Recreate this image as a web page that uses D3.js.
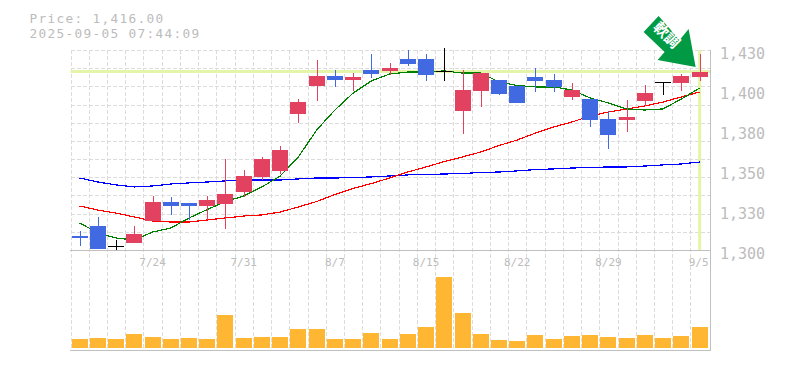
<!DOCTYPE html>
<html><head><meta charset="utf-8">
<script src="https://d3js.org/d3.v7.min.js"></script>
<style>
html,body{margin:0;padding:0;background:#fff}
svg{display:block}
text{font-family:"DejaVu Sans Mono",monospace;fill:#bcbcbc}
</style></head><body>
<svg id="c" width="785" height="370"></svg>
<script>
const dates=["7/17","7/18","7/22","7/23","7/24","7/25","7/28","7/29","7/30","7/31","8/1","8/4","8/5","8/6","8/7","8/8","8/12","8/13","8/14","8/15","8/18","8/19","8/20","8/21","8/22","8/25","8/26","8/27","8/28","8/29","9/1","9/2","9/3","9/4","9/5"];
const tickDates=["7/24","7/31","8/7","8/15","8/22","8/29","9/5"];
const open =[1309.1,1315.6,1302.4,1304.6,1318.9,1331.2,1330.6,1328.6,1329.9,1337.7,1347.5,1351.4,1388.4,1406.6,1413.1,1410.5,1417,1416.4,1424.2,1424.2,1416.4,1390.4,1403.4,1410.5,1406.6,1412.5,1410.5,1399.5,1398.2,1385.2,1384.5,1396.9,1409.2,1408.6,1412.5];
const close=[1307.8,1300.7,1302.4,1310.4,1331.2,1328.6,1328.6,1332.5,1336.4,1348.1,1359.2,1365,1396.2,1413.1,1410.5,1412.5,1414.4,1418.3,1420.9,1413.8,1416.4,1404,1415,1401.4,1395.6,1409.9,1406,1404,1384.5,1374.8,1386.5,1402,1409.2,1413.1,1416];
const high =[1312.4,1321.5,1306.5,1315.6,1335.1,1334.5,1330.6,1335.1,1359.2,1352,1360.5,1367.6,1398.2,1423.5,1417,1415,1427.4,1421.6,1430,1427.4,1431.3,1417,1415,1410.5,1406.6,1418.3,1414.4,1408.6,1398.2,1390.4,1397.5,1407.3,1409.2,1414.4,1427.4];
const low  =[1302.6,1300.7,1299.7,1304.6,1318.9,1322.8,1319.5,1319.5,1313.7,1334.5,1345.5,1349.4,1382.6,1396.9,1406,1403.4,1411.8,1413.8,1419.6,1409.9,1409.9,1375.4,1393,1400.8,1395.6,1402.7,1402.7,1397.5,1380,1365.7,1376.7,1393.6,1400.8,1403.4,1409.9];
const volume=[900,1000,900,1400,1100,900,1000,900,3300,1000,1100,1100,1900,1900,900,900,1500,900,1400,2100,7100,3500,1400,800,700,1300,900,1200,1300,1100,1000,1300,1000,1200,2100];
const maShort=[1317.6,1311.1,1307.8,1306.5,1311.7,1314.3,1320.8,1326.3,1331.5,1335.1,1341,1348.1,1360.5,1378,1391,1402,1409.9,1414.4,1415.7,1415.7,1416.4,1415,1415,1409.2,1406.9,1406,1406,1404,1398.8,1395.6,1391.7,1391,1391.7,1398.2,1405.3];
const maMid=[1328.6,1326,1324,1321.5,1318.9,1318.2,1318.2,1319.5,1320.8,1322.1,1322.8,1324.7,1328,1331.5,1336.1,1340,1343.2,1346.8,1350.7,1354,1357.5,1360.5,1363.7,1367.9,1371.5,1376,1380,1383.2,1387.1,1389.7,1391.7,1393.6,1396.2,1399.5,1402.7];
const maLong=[1346.8,1344.2,1342.3,1341,1341.6,1342.9,1343.6,1344.2,1344.9,1345.5,1345.5,1345.5,1346.2,1346.8,1346.8,1347.1,1347.5,1348.1,1348.8,1349.1,1349.4,1349.7,1350.4,1350.7,1351.4,1352.3,1352.7,1353.3,1353.6,1354,1354,1354.6,1355.3,1355.9,1357.2];
const priceTicks=[1430,1404,1378,1352,1326,1300];
const priceTickLabels=["1,430","1,400","1,380","1,350","1,330","1,300"];
const headerLines=["Price: 1,416.00","2025-09-05 07:44:09"];
const lastPrice=1416;
const badgeText="軟調";

const RED="#e2425f",BLUE="#4169e1",GRID="#dcdcdc",AXIS="#c0c0c0",HILITE="#e4f5a9";
const L=70.5,R=709,T=50,B=250,VB=348,VT=270,AX2=350;
const svg=d3.select("#c");
const x=d3.scaleBand().domain(d3.range(dates.length)).range([L,L+18.235*35]);
const cx=i=>x(i)+x.bandwidth()/2;
const y=d3.scaleLinear().domain([1300,1430]).range([B,T]);
const v=d3.scaleLinear().domain([0,7800]).range([VB,VT]);

const grid=svg.append("g").attr("stroke",GRID).attr("stroke-width",1).attr("stroke-dasharray","4 2").attr("shape-rendering","crispEdges");
d3.range(0,35).forEach(i=>{
  const px=Math.round(x(i))+.5;
  grid.append("line").attr("x1",px).attr("x2",px).attr("y1",T).attr("y2",AX2);
});
d3.range(0,11).forEach(k=>{
  const py=Math.round(T+k*(B-T)/11)+.5;
  grid.append("line").attr("x1",L).attr("x2",R+1).attr("y1",py).attr("y2",py);
});

// volume
svg.append("g").attr("fill","#ffb733").selectAll("rect").data(volume).join("rect")
  .attr("x",(d,i)=>Math.round(cx(i)-8)).attr("width",16)
  .attr("y",d=>v(d)).attr("height",d=>VB-v(d));

// highlight lines
svg.append("line").attr("x1",L).attr("x2",R+1).attr("y1",y(lastPrice)).attr("y2",y(lastPrice)).attr("stroke",HILITE).attr("stroke-width",3);
svg.append("line").attr("x1",cx(34)).attr("x2",cx(34)).attr("y1",T).attr("y2",B).attr("stroke",HILITE).attr("stroke-width",3);

// axes frame
const fr=svg.append("g").attr("stroke",AXIS).attr("stroke-width",1).attr("shape-rendering","crispEdges");
fr.append("line").attr("x1",70).attr("x2",710).attr("y1",250.5).attr("y2",250.5);
fr.append("line").attr("x1",70).attr("x2",710).attr("y1",350.5).attr("y2",350.5);
fr.append("line").attr("x1",710.5).attr("x2",710.5).attr("y1",T).attr("y2",351);

// moving averages
const line=d3.line().x((d,i)=>cx(i)).y(d=>y(d));
[[maLong,"#0000ff"],[maMid,"#ff0000"],[maShort,"#008000"]].forEach(([s,c])=>{
  svg.append("path").attr("d",line(s)).attr("fill","none").attr("stroke",c).attr("stroke-width",1.2).attr("shape-rendering","crispEdges");
});

// candles
const col=i=>close[i]>open[i]?RED:close[i]<open[i]?BLUE:"#000";
const g=svg.append("g").attr("shape-rendering","crispEdges");
dates.forEach((d,i)=>{
  const px=Math.round(cx(i));
  g.append("line").attr("x1",px+.5).attr("x2",px+.5).attr("y1",y(high[i])).attr("y2",y(low[i])).attr("stroke",col(i));
  const top=y(Math.max(open[i],close[i])),bot=y(Math.min(open[i],close[i]));
  if(open[i]===close[i]){
    g.append("line").attr("x1",px-8).attr("x2",px+8).attr("y1",Math.round(top)+.5).attr("y2",Math.round(top)+.5).attr("stroke","#000");
  }else{
    g.append("rect").attr("x",px-8).attr("width",16).attr("y",top).attr("height",bot-top).attr("fill",col(i));
  }
});

// y labels
priceTicks.forEach((t,i)=>{
  svg.append("text").attr("x",720).attr("y",y(t)+8.5).attr("font-size",15).text(priceTickLabels[i]);
});
// x labels
tickDates.forEach(t=>{
  const i=dates.indexOf(t);
  svg.append("text").attr("x",cx(i)-(t==="9/5"?1:0)).attr("y",266).attr("text-anchor","middle")
    .attr("font-size",11).text(t);
});
// header
headerLines.forEach((t,i)=>{
  svg.append("text").attr("x",29.5).attr("y",23+i*15).attr("font-size",12.8).attr("letter-spacing",1.3).text(t);
});
// badge arrow
const tx=cx(34)-4,ty=y(lastPrice)-4.5;
const shape=[[-37,-51],[-52,-35],[-31,-15],[-38,-7],[0,0],[-7,-38],[-16,-27]];
svg.append("polygon").attr("points",shape.map(p=>[tx+p[0],ty+p[1]].join(",")).join(" ")).attr("fill","#009a44");
svg.append("text").attr("transform",`translate(${tx-29},${ty-32}) rotate(45)`).attr("text-anchor","middle").attr("dy","0.35em")
  .style("fill","#fff").style("font-family","'Noto Sans CJK JP'").style("font-weight","700").attr("font-size",15).text(badgeText);
</script></body></html>
